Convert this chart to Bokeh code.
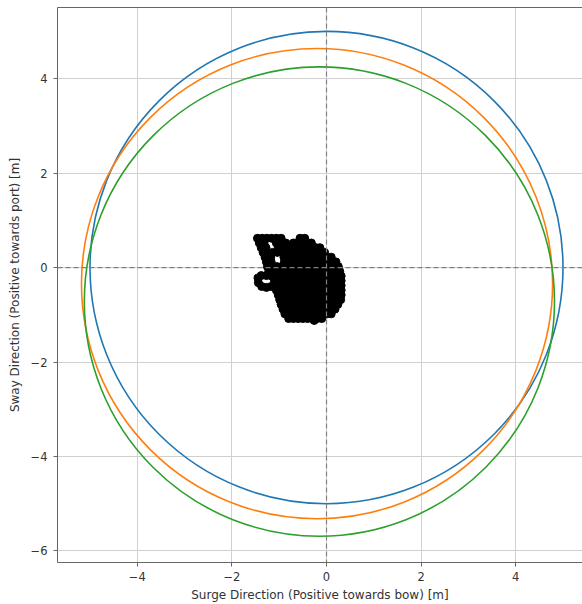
from bokeh.plotting import figure
from bokeh.models import (Range1d, FixedTicker, LinearAxis, Span, ColumnDataSource,
                          CustomJSTickFormatter)
from bokeh.embed import file_html
from bokeh.resources import INLINE

# ---- data ----
x_ticks = [-4, -2, 0, 2, 4]
y_ticks = [-6, -4, -2, 0, 2, 4]

circle_x = [0.0, -0.20, -0.15]
circle_y = [0.0, -0.34, -0.72]
circle_r = [5.0, 4.98, 4.97]
circle_colors = ["#1f77b4", "#ff7f0e", "#2ca02c"]

# vessel position track (surge, sway)
rows_y = [0.62, 0.52, 0.42, 0.32, 0.22, 0.12, 0.02, -0.08, -0.18, -0.28,
          -0.38, -0.48, -0.58, -0.68, -0.78, -0.88, -0.98, -1.08]
rows_x = [
    [-1.46, -1.36, -1.26, -1.16, -1.06, -0.96, -0.56, -0.46],
    [-1.42, -1.32, -1.06, -0.96, -0.86, -0.70, -0.60, -0.50, -0.40, -0.32],
    [-1.38, -1.28, -1.02, -0.92, -0.82, -0.72, -0.62, -0.52, -0.42, -0.32, -0.22, -0.14],
    [-1.34, -1.24, -1.14, -1.04, -0.94, -0.84, -0.74, -0.64, -0.54, -0.44, -0.34, -0.24, -0.14, -0.04],
    [-1.30, -1.18, -0.90, -0.80, -0.70, -0.60, -0.50, -0.40, -0.30, -0.20, -0.10, 0.00, 0.10],
    [-1.27, -1.17, -0.89, -0.79, -0.69, -0.59, -0.49, -0.39, -0.29, -0.19, -0.09, 0.01, 0.11, 0.20],
    [-1.25, -1.15, -1.05, -0.95, -0.85, -0.75, -0.65, -0.55, -0.45, -0.35, -0.25, -0.15, -0.05, 0.05, 0.15, 0.25],
    [-1.22, -1.12, -1.02, -0.92, -0.82, -0.72, -0.62, -0.52, -0.42, -0.32, -0.22, -0.12, -0.02, 0.08, 0.18, 0.28],
    [-1.04, -0.94, -0.84, -0.74, -0.64, -0.54, -0.44, -0.34, -0.24, -0.14, -0.04, 0.06, 0.16, 0.26, 0.31],
    [-1.04, -0.94, -0.84, -0.74, -0.64, -0.54, -0.44, -0.34, -0.24, -0.14, -0.04, 0.06, 0.16, 0.26, 0.31],
    [-1.04, -0.94, -0.84, -0.74, -0.64, -0.54, -0.44, -0.34, -0.24, -0.14, -0.04, 0.06, 0.16, 0.26, 0.31],
    [-1.06, -0.96, -0.86, -0.76, -0.66, -0.56, -0.46, -0.36, -0.26, -0.16, -0.06, 0.04, 0.14, 0.24, 0.31],
    [-1.02, -0.92, -0.82, -0.72, -0.62, -0.52, -0.42, -0.32, -0.22, -0.12, -0.02, 0.08, 0.18, 0.28, 0.31],
    [-0.99, -0.89, -0.79, -0.69, -0.59, -0.49, -0.39, -0.29, -0.19, -0.09, 0.01, 0.11, 0.21, 0.30],
    [-0.96, -0.86, -0.76, -0.66, -0.56, -0.46, -0.36, -0.26, -0.16, -0.06, 0.04, 0.14, 0.24],
    [-0.92, -0.82, -0.72, -0.62, -0.52, -0.42, -0.32, -0.22, -0.12, -0.02, 0.08, 0.18],
    [-0.88, -0.78, -0.68, -0.58, -0.48, -0.38, -0.28, -0.18, -0.08, 0.02, 0.10],
    [-0.80, -0.70, -0.60, -0.50, -0.40, -0.30, -0.20, -0.10],
]
loop_x = [-1.45, -1.44, -1.38, -1.27, -1.37, -1.27, -1.17, -1.16, -1.10, -1.10, -0.26]
loop_y = [-0.22, -0.32, -0.17, -0.17, -0.40, -0.42, -0.40, -0.18, -0.28, -0.38, -1.12]

# ---- build ----
track_x, track_y = [], []
for yy, xs in zip(rows_y, rows_x):
    for xx in xs:
        track_x.append(xx)
        track_y.append(yy)
track_x += loop_x
track_y += loop_y

FONT = "DejaVu Sans"
AX = "#666666"
TXT = "#333333"

p = figure(width=582, height=604, output_backend="svg", toolbar_location=None,
           x_range=Range1d(-5.687, 5.412), y_range=Range1d(-6.245, 5.506),
           min_border_left=57, min_border_right=0, min_border_top=7, min_border_bottom=40)
p.outline_line_color = None
p.background_fill_color = "white"
p.border_fill_color = "white"

minus_fmt = CustomJSTickFormatter(code="return tick < 0 ? '\\u2212' + (-tick) : '' + tick;")

for ax, ticks in ((p.xaxis[0], x_ticks), (p.yaxis[0], y_ticks)):
    ax.ticker = FixedTicker(ticks=ticks)
    ax.formatter = minus_fmt
    ax.minor_tick_line_color = None
    ax.major_tick_in = 0
    ax.major_tick_out = 4
    ax.major_tick_line_color = AX
    ax.axis_line_color = AX
    ax.major_label_text_font = FONT
    ax.major_label_text_font_size = "11.5px"
    ax.major_label_text_color = TXT
    ax.axis_label_text_font = FONT
    ax.axis_label_text_font_size = "12px"
    ax.axis_label_text_font_style = "normal"
    ax.axis_label_text_color = TXT

p.xaxis[0].axis_label = "Surge Direction (Positive towards bow) [m]"
p.yaxis[0].axis_label = "Sway Direction (Positive towards port) [m]"
p.xaxis[0].major_label_standoff = 5
p.xaxis[0].axis_label_standoff = 4
p.yaxis[0].major_label_standoff = 6
p.yaxis[0].axis_label_standoff = 6

top_axis = LinearAxis(ticker=FixedTicker(ticks=[]), major_tick_in=0, major_tick_out=0,
                      minor_tick_line_color=None, major_label_standoff=0,
                      major_label_text_font_size="0px", axis_line_color=AX)
p.add_layout(top_axis, "above")

p.xgrid.ticker = FixedTicker(ticks=x_ticks)
p.ygrid.ticker = FixedTicker(ticks=y_ticks)
for g in (p.xgrid[0], p.ygrid[0]):
    g.grid_line_color = "#d0d0d0"
    g.grid_line_width = 1

circ_src = ColumnDataSource(dict(x=circle_x, y=circle_y,
                                 d=[2 * r for r in circle_r], c=circle_colors))
p.ellipse(x="x", y="y", width="d", height="d", source=circ_src,
          fill_color=None, line_color="c", line_width=1.6)

p.scatter(track_x, track_y, size=8, marker="circle", color="black")

p.add_layout(Span(location=0, dimension="height", line_color="#808080",
                  line_dash="5 3", line_width=1.2))
p.add_layout(Span(location=0, dimension="width", line_color="#808080",
                  line_dash="5 3", line_width=1.2))

open("out.html", "w").write(file_html(p, INLINE))
